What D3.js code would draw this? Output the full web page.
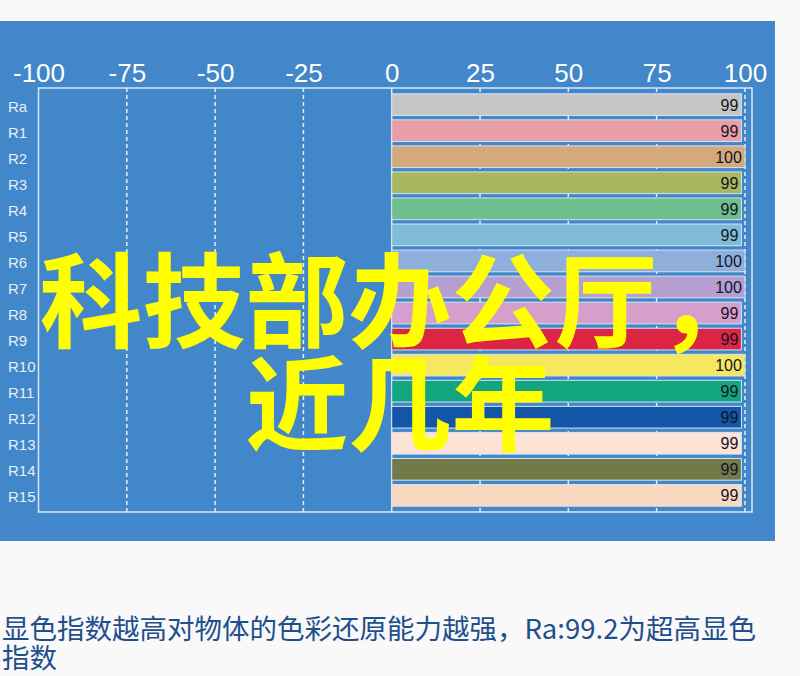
<!DOCTYPE html>
<html>
<head>
<meta charset="utf-8">
<script src="https://cdn.jsdelivr.net/npm/d3@7"></script>
<style>
  body { margin: 0; background: #f9f9f9; }
  svg { display: block; }
</style>
</head>
<body>
<div id="chart"></div>
<script>
// chart data
var categories = ["Ra", "R1", "R2", "R3", "R4", "R5", "R6", "R7", "R8", "R9", "R10", "R11", "R12", "R13", "R14", "R15"];
var values = [99, 99, 100, 99, 99, 99, 100, 100, 99, 99, 100, 99, 99, 99, 99, 99];
var tickValues = [-100, -75, -50, -25, 0, 25, 50, 75, 100];
var barColors = ["#c6c6c6", "#e89ea6", "#d4a97b", "#a8b85f", "#6ebe8f", "#7fbcd8", "#8eaedc", "#b59fd0",
  "#d59fcb", "#dc2444", "#f5e85e", "#12a57f", "#1356a8", "#fde3d6", "#737a4a", "#f9d9c1"];
var overlayLines = ["科技部办公厅，", "近几年"];
var captionLines = ["显色指数越高对物体的色彩还原能力越强，Ra:99.2为超高显色", "指数"];

var width = 800, height = 676;
var plot = { left: 38.5, top: 88, right: 752, bottom: 512 };

var svg = d3.select("#chart").append("svg")
  .attr("width", width)
  .attr("height", height);

// blue panel behind the chart
svg.append("rect")
  .attr("x", 0).attr("y", 21)
  .attr("width", 775).attr("height", 520)
  .attr("fill", "#4287c9");

var x = d3.scaleLinear()
  .domain([-100, 102])
  .range([plot.left, plot.right]);

var y = d3.scaleBand()
  .domain(categories)
  .range([plot.top, plot.bottom])
  .paddingInner(0.167)
  .paddingOuter(0.222);

// dashed grid lines (hidden behind bars on the positive side)
svg.append("g").selectAll("line")
  .data(tickValues.filter(function (d) { return d !== 0 && d !== -100; }))
  .enter().append("line")
  .attr("x1", function (d) { return x(d); })
  .attr("x2", function (d) { return x(d); })
  .attr("y1", plot.top).attr("y2", plot.bottom)
  .attr("stroke", "#e6eef8")
  .attr("stroke-width", 1.5)
  .attr("stroke-dasharray", "4,3");

// zero line
svg.append("line")
  .attr("x1", x(0)).attr("x2", x(0))
  .attr("y1", plot.top).attr("y2", plot.bottom)
  .attr("stroke", "#dce8f6")
  .attr("stroke-width", 1.5);

// plot frame
svg.append("rect")
  .attr("x", plot.left).attr("y", plot.top)
  .attr("width", plot.right - plot.left)
  .attr("height", plot.bottom - plot.top)
  .attr("fill", "none")
  .attr("stroke", "#dce8f6")
  .attr("stroke-width", 1.5);

// top axis labels, plain hyphen for negatives
var axis = d3.axisTop(x)
  .tickValues(tickValues)
  .tickFormat(function (d) { return String(d); })
  .tickSize(0)
  .tickPadding(6);

var axisG = svg.append("g")
  .attr("transform", "translate(0," + plot.top + ")")
  .call(axis);
axisG.select(".domain").remove();
axisG.selectAll("text")
  .attr("fill", "#ffffff")
  .style("font-family", "'Liberation Sans', Arial, sans-serif")
  .style("font-size", "26px");

// bars
svg.append("g").selectAll("rect")
  .data(values)
  .enter().append("rect")
  .attr("x", x(0))
  .attr("y", function (d, i) { return y(categories[i]); })
  .attr("width", function (d) { return x(d) - x(0); })
  .attr("height", y.bandwidth())
  .attr("fill", function (d, i) { return barColors[i]; })
  .attr("stroke", "#d6e4f2")
  .attr("stroke-width", 1);

// value labels
svg.append("g").selectAll("text")
  .data(values)
  .enter().append("text")
  .attr("x", function (d) { return x(d) - 3; })
  .attr("y", function (d, i) { return y(categories[i]) + y.bandwidth() / 2 + 6; })
  .attr("text-anchor", "end")
  .attr("fill", "#141428")
  .style("font-family", "'Liberation Sans', Arial, sans-serif")
  .style("font-size", "16px")
  .text(function (d) { return d; });

// row labels
svg.append("g").selectAll("text")
  .data(categories)
  .enter().append("text")
  .attr("x", 8)
  .attr("y", function (d) { return y(d) + y.bandwidth() / 2 + 7; })
  .attr("fill", "#e6eef8")
  .style("font-family", "'Liberation Sans', Arial, sans-serif")
  .style("font-size", "15px")
  .text(function (d) { return d; });

// big yellow overlay text
svg.append("g").selectAll("text")
  .data(overlayLines)
  .enter().append("text")
  .attr("x", 400)
  .attr("y", function (d, i) { return 340 + i * 103; })
  .attr("text-anchor", "middle")
  .attr("fill", "#ffff00")
  .style("font-family", "'Noto Sans CJK SC', sans-serif")
  .style("font-weight", "bold")
  .style("font-size", "103px")
  .text(function (d) { return d; });

// caption under the chart
svg.append("g").selectAll("text")
  .data(captionLines)
  .enter().append("text")
  .attr("x", 2)
  .attr("y", function (d, i) { return 639 + i * 29; })
  .attr("fill", "#1f4f8c")
  .style("font-family", "'Noto Sans CJK SC', sans-serif")
  .style("font-size", "27.5px")
  .text(function (d) { return d; });
</script>
</body>
</html>
